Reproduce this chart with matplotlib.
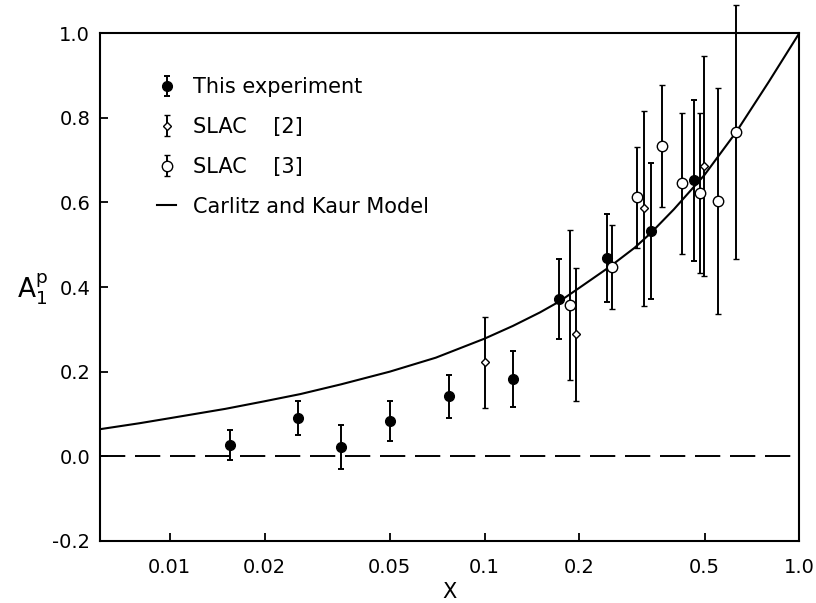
import numpy as np
import matplotlib
matplotlib.use("Agg")
import matplotlib.pyplot as plt

plt.rcParams['font.family'] = ['DejaVu Sans']

# This experiment
emc_x = [0.0155, 0.0255, 0.035, 0.050, 0.077, 0.123, 0.173, 0.245, 0.338, 0.464]
emc_y = [0.026, 0.090, 0.021, 0.083, 0.142, 0.182, 0.371, 0.468, 0.532, 0.652]
emc_err = [0.035, 0.040, 0.052, 0.048, 0.051, 0.066, 0.095, 0.104, 0.16, 0.19]

# SLAC [2]
slac2_x = [0.100, 0.195, 0.321, 0.499]
slac2_y = [0.222, 0.288, 0.586, 0.686]
slac2_err = [0.107, 0.157, 0.23, 0.26]

# SLAC [3]
slac3_x = [0.187, 0.254, 0.305, 0.367, 0.425, 0.484, 0.552, 0.630]
slac3_y = [0.357, 0.447, 0.612, 0.733, 0.645, 0.622, 0.603, 0.766]
slac3_err = [0.177, 0.100, 0.12, 0.145, 0.167, 0.19, 0.267, 0.30]

# Carlitz and Kaur model
model_x = [0.006, 0.008, 0.010, 0.015, 0.020, 0.026, 0.035, 0.050, 0.070,
           0.100, 0.123, 0.150, 0.173, 0.200, 0.250, 0.300, 0.338, 0.400,
           0.500, 0.630, 0.800, 1.000]
model_y = [0.064, 0.078, 0.090, 0.112, 0.130, 0.147, 0.170, 0.200, 0.233,
           0.278, 0.308, 0.340, 0.366, 0.398, 0.448, 0.493, 0.528, 0.584,
           0.665, 0.766, 0.885, 1.000]

xticks = [0.01, 0.02, 0.05, 0.1, 0.2, 0.5, 1.0]
xticklabels = ['0.01', '0.02', '0.05', '0.1', '0.2', '0.5', '1.0']
yticks = [-0.2, 0.0, 0.2, 0.4, 0.6, 0.8, 1.0]

fig = plt.figure(figsize=(8.16, 6.03), dpi=100)
ax = fig.add_axes([0.1225, 0.103, 0.857, 0.842])

ax.axhline(0, color='black', lw=1.4, dashes=(13, 5))
line_model, = ax.plot(model_x, model_y, color='black', lw=1.5)

h_emc = ax.errorbar(emc_x, emc_y, yerr=emc_err, fmt='o', color='black',
                    ms=7, capsize=2, elinewidth=1.4, capthick=1.4)
h_s2 = ax.errorbar(slac2_x, slac2_y, yerr=slac2_err, fmt='D', color='black',
                   mfc='white', mec='black', ms=4.5, mew=1.0,
                   capsize=2, elinewidth=1.4, capthick=1.4)
h_s3 = ax.errorbar(slac3_x, slac3_y, yerr=slac3_err, fmt='o', color='black',
                   mfc='white', mec='black', ms=7.5, mew=1.0,
                   capsize=2, elinewidth=1.4, capthick=1.4)
for art in h_s3.get_children():
    art.set_clip_on(False)

ax.set_xscale('log')
ax.set_xlim(0.006, 1.0)
ax.set_ylim(-0.2, 1.0)
ax.set_xticks(xticks)
ax.set_xticklabels(xticklabels)
ax.xaxis.set_minor_locator(matplotlib.ticker.NullLocator())
ax.set_yticks(yticks)
ax.set_yticklabels([f'{v:.1f}' for v in yticks])
ax.tick_params(direction='in', length=6, width=1.3, labelsize=14)
ax.tick_params(axis='x', pad=12)
ax.tick_params(axis='y', pad=7)

for s in ax.spines.values():
    s.set_linewidth(1.5)

ax.set_xlabel('X', fontsize=15, labelpad=4)
ax.set_ylabel(r'$\mathrm{A}_1^{\mathrm{p}}$', fontsize=19, rotation=0)
ax.yaxis.set_label_coords(-0.097, 0.46)

ax.legend([h_emc, h_s2, h_s3, line_model],
          ['This experiment', 'SLAC    [2]', 'SLAC    [3]', 'Carlitz and Kaur Model'],
          loc='upper left', bbox_to_anchor=(0.055, 0.95), frameon=False,
          fontsize=15, handlelength=0.9, handletextpad=0.8, labelspacing=0.95)

fig.savefig('out.png', dpi=100)
